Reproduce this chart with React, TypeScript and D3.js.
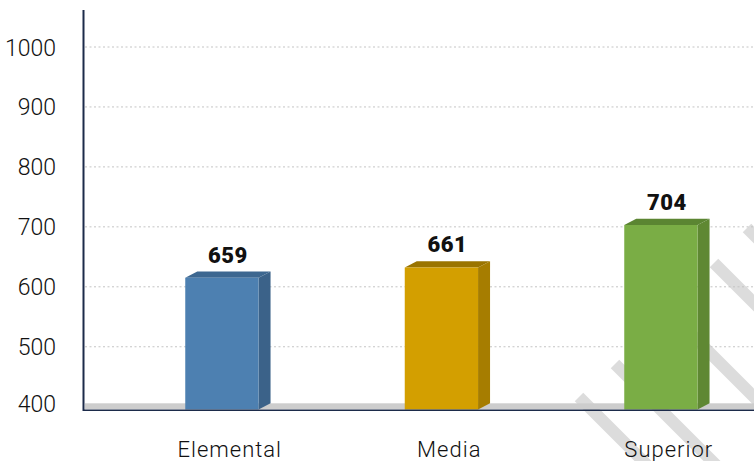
import React from "react";
import * as d3 from "d3";

const categories = ["Elemental", "Media", "Superior"];
const valueLabels = ["659", "661", "704"];
const barValues = [615, 632, 703];
const yTicks = [400, 500, 600, 700, 800, 900, 1000];
const frontColors = ["#4d80b1", "#d39f00", "#7aad45"];
const sideColors = ["#3b6289", "#a67d00", "#5f8833"];
const topColors = ["#3d6790", "#9a7400", "#5b8532"];
// decorative diagonal stripes (start points)
const stripeStarts: [number, number][] = [
  [579, 397],
  [615, 364],
  [680, 323],
  [714, 263],
  [747, 228],
];

const W = 754;
const H = 461;

export default function App() {
  const y = d3.scaleLinear().domain([400, 1000]).range([406.7, 47]);
  const x = d3.scaleBand<string>().domain(categories).range([120, 778.5]);
  const baseY = 409.6;
  const barW = 73.3;
  const dx = 12;
  const dy = 6.3;
  const axisColor = "#1c2b4a";
  const font = "Roboto, 'Noto Sans', sans-serif";

  return (
    <svg
      width={W}
      height={H}
      style={{ position: "absolute", left: 0, top: 0, background: "#fff" }}
    >
      {stripeStarts.map(([sx, sy], i) => (
        <line
          key={"s" + i}
          x1={sx}
          y1={sy}
          x2={sx + 300}
          y2={sy + 300}
          stroke="#dcdcdc"
          strokeWidth={12}
        />
      ))}
      {yTicks
        .filter((t) => t > 400)
        .map((t) => (
          <line
            key={"g" + t}
            x1={85}
            x2={W}
            y1={y(t)}
            y2={y(t)}
            stroke="#c4c4c4"
            strokeWidth={1}
            strokeDasharray="2,2.5"
          />
        ))}
      <rect x={85} y={403.3} width={W - 85} height={6} fill="#cdcdcd" />
      {yTicks.map((t) => (
        <text
          key={"t" + t}
          x={56}
          y={t === 400 ? y(t) + 5 : y(t) + 8.5}
          textAnchor="end"
          fontFamily={font}
          fontSize={23}
          fontWeight={300}
          fill="#111"
        >
          {t}
        </text>
      ))}
      {categories.map((c, i) => {
        const cx = (x(c) as number) + x.bandwidth() / 2;
        const x0 = cx - 44.5;
        const x1 = x0 + barW;
        const yT = y(barValues[i]);
        const front = `M${x0},${baseY}L${x0},${yT}L${x1},${yT}L${x1},${baseY}Z`;
        const top = `M${x0},${yT}L${x0 + dx},${yT - dy}L${x1 + dx},${yT - dy}L${x1},${yT}Z`;
        const side = `M${x1},${yT}L${x1 + dx},${yT - dy}L${x1 + dx},${baseY - dy}L${x1},${baseY}Z`;
        return (
          <g key={c}>
            <path d={side} fill={sideColors[i]} />
            <path d={top} fill={topColors[i]} />
            <path d={front} fill={frontColors[i]} />
            <text
              x={x0 + (barW + dx) / 2}
              y={yT - dy - 9}
              textAnchor="middle"
              fontFamily={font}
              fontWeight={900}
              fontSize={22}
              letterSpacing={0.5}
              fill="#111"
            >
              {valueLabels[i]}
            </text>
            <text
              x={cx}
              y={457}
              textAnchor="middle"
              fontFamily={font}
              fontSize={22}
              fontWeight={300}
              letterSpacing={1}
              fill="#111"
            >
              {c}
            </text>
          </g>
        );
      })}
      <line x1={83} x2={W} y1={410.2} y2={410.2} stroke={axisColor} strokeWidth={1.6} />
      <line x1={83.5} x2={83.5} y1={10} y2={411} stroke={axisColor} strokeWidth={2} />
    </svg>
  );
}
